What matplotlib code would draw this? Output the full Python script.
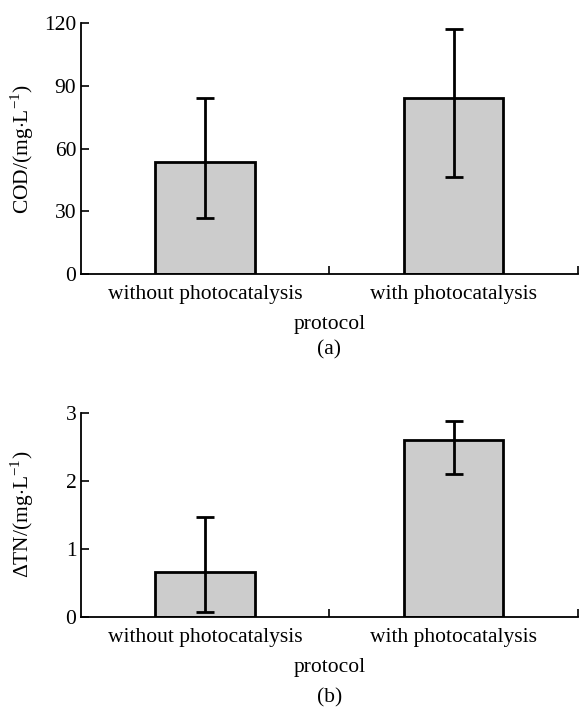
import matplotlib
matplotlib.use("Agg")
import matplotlib.pyplot as plt
import numpy as np

plt.rcParams['font.family'] = ['Liberation Serif', 'DejaVu Serif']
plt.rcParams['mathtext.fontset'] = 'custom'
plt.rcParams['mathtext.rm'] = 'Liberation Serif'

categories = ["without photocatalysis", "with photocatalysis"]

cod_values = [53.4, 84.2]
cod_err_low = [26.7, 46.3]
cod_err_high = [83.9, 117.0]
cod_ticks = [0, 30, 60, 90, 120]

tn_values = [0.666, 2.60]
tn_err_low = [0.069, 2.10]
tn_err_high = [1.463, 2.88]
tn_ticks = [0, 1, 2, 3]

W, H = 579, 709
FS = 15.5
fig = plt.figure(figsize=(W / 100, H / 100), dpi=100)

def make_ax(top, bottom):
    left, right = 80.5, 578
    return fig.add_axes([left / W, 1 - bottom / H, (right - left) / W, (bottom - top) / H])

def draw(ax, vals, lo, hi, ticks, ylabel, letter_text, letter_y):
    x = np.arange(len(categories))
    vals = np.array(vals)
    yerr = [vals - np.array(lo), np.array(hi) - vals]
    ax.bar(x, vals, width=0.4, color='#cccccc', edgecolor='black', linewidth=2, zorder=2)
    ax.errorbar(x, vals, yerr=yerr, fmt='none', ecolor='black', elinewidth=2,
                capsize=6.5, capthick=2, zorder=3)
    ax.set_xlim(-0.5, 1.5)
    ax.set_ylim(ticks[0], ticks[-1])
    ax.set_yticks(ticks)
    ax.set_xticks(x)
    ax.set_xticklabels(categories)
    ax.set_xticks([0.5, 1.5], minor=True)
    ax.tick_params(axis='x', which='major', length=0, labelsize=FS, pad=8)
    ax.tick_params(axis='x', which='minor', length=6, width=1.2, direction='in')
    ax.tick_params(axis='y', length=6, width=1.2, direction='in', labelsize=FS, pad=3)
    for s in ['top', 'right']:
        ax.spines[s].set_visible(False)
    for s in ['left', 'bottom']:
        ax.spines[s].set_linewidth(1.3)
    ax.set_ylabel(ylabel, fontsize=FS)
    ax.yaxis.set_label_coords(-0.09, 0.5)
    ax.set_xlabel('protocol', fontsize=FS, labelpad=7.5)
    ax.text(0.5, letter_y, letter_text,
            transform=ax.transAxes, ha='center', va='center', fontsize=FS)

ax1 = make_ax(22.7, 274.3)
draw(ax1, cod_values, cod_err_low, cod_err_high, cod_ticks,
     r'COD/(mg$\cdot$L$^{-1}$)', '(a)', -0.30)
ax2 = make_ax(412.7, 617)
draw(ax2, tn_values, tn_err_low, tn_err_high, tn_ticks,
     r'$\Delta$TN/(mg$\cdot$L$^{-1}$)', '(b)', -0.395)

fig.savefig('out.png', dpi=100)
